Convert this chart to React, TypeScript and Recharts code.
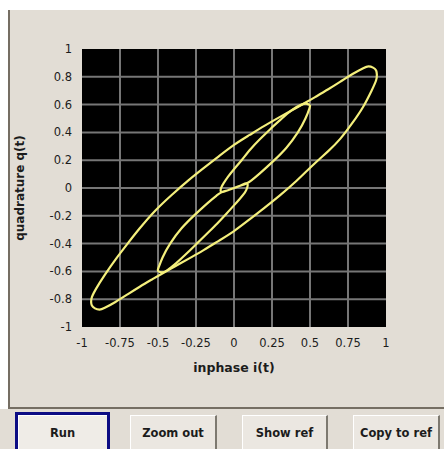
import React from 'react';
import { LineChart, Line, XAxis, YAxis, ReferenceArea, ReferenceLine } from 'recharts';

const xTicks = [-1, -0.75, -0.5, -0.25, 0, 0.25, 0.5, 0.75, 1];
const yTicks = [-1, -0.8, -0.6, -0.4, -0.2, 0, 0.2, 0.4, 0.6, 0.8, 1];

// outer loop (upper edge first, then lower edge)
const outerI = [
  0.94, 0.935, 0.915, 0.885, 0.85, 0.78, 0.7, 0.62, 0.54, 0.48, 0.39, 0.3, 0.2, 0.1, 0,
  -0.1, -0.2, -0.3, -0.41, -0.52, -0.62, -0.7, -0.78, -0.85, -0.905, -0.935, -0.94,
  -0.935, -0.915, -0.885, -0.85, -0.78, -0.7, -0.62, -0.54, -0.48, -0.39, -0.3, -0.2, -0.1, 0,
  0.1, 0.2, 0.3, 0.41, 0.52, 0.62, 0.7, 0.78, 0.85, 0.905, 0.935, 0.94,
];
const outerQ = [
  0.815, 0.845, 0.866, 0.875, 0.862, 0.82, 0.765, 0.71, 0.658, 0.62, 0.565, 0.51, 0.447, 0.38, 0.31,
  0.228, 0.143, 0.055, -0.05, -0.165, -0.29, -0.4, -0.515, -0.625, -0.72, -0.785, -0.82,
  -0.845, -0.866, -0.875, -0.862, -0.82, -0.765, -0.71, -0.658, -0.62, -0.565, -0.51, -0.447, -0.38, -0.31,
  -0.228, -0.143, -0.055, 0.05, 0.165, 0.265, 0.355, 0.47, 0.585, 0.7, 0.775, 0.815,
];

// inner figure with the twist in the middle
const innerI = [
  0.5, 0.475, 0.44, 0.38, 0.31, 0.24, 0.17, 0.11, 0.05, 0, -0.04, -0.068, -0.085,
  -0.082, -0.04, 0, 0.04, 0.085, 0.086,
  0.07, 0.04, 0, -0.05, -0.11, -0.17, -0.24, -0.31, -0.38, -0.44, -0.475,
  -0.5, -0.497, -0.47, -0.42, -0.345, -0.26, -0.17, -0.115,
  -0.082, -0.04, 0, 0.04, 0.085,
  0.115, 0.17, 0.26, 0.345, 0.42, 0.47, 0.497, 0.5,
];
const innerQ = [
  0.597, 0.607, 0.598, 0.56, 0.495, 0.425, 0.35, 0.28, 0.2, 0.135, 0.08, 0.035, 0,
  -0.03, -0.016, 0, 0.016, 0.035, 0,
  -0.035, -0.075, -0.125, -0.185, -0.255, -0.32, -0.395, -0.47, -0.54, -0.592, -0.607,
  -0.597, -0.575, -0.5, -0.4, -0.29, -0.195, -0.105, -0.055,
  -0.03, -0.016, 0, 0.016, 0.035,
  0.055, 0.105, 0.195, 0.29, 0.4, 0.5, 0.575, 0.597,
];

const buttonLabels = ['Run', 'Zoom out', 'Show ref', 'Copy to ref'];

const toPoints = (xs: number[], ys: number[]) => xs.map((i, k) => ({ i, q: ys[k] }));

const outerData = toPoints(outerI, outerQ);
const innerData = toPoints(innerI, innerQ);

const panelBg = '#e2ddd5';
const curveColor = '#f4ef7c';
const gridColor = '#767676';
const tickStyle = { fill: '#1c1c1c', fontSize: 11.5, fontFamily: 'DejaVu Sans' };

const buttonBoxes = [
  { left: 15, width: 95 },
  { left: 130, width: 87 },
  { left: 242, width: 86 },
  { left: 353, width: 87 },
];

const baseButton: React.CSSProperties = {
  position: 'absolute',
  height: 45,
  boxSizing: 'border-box',
  background: '#ebe7e1',
  textAlign: 'center',
  fontWeight: 'bold',
  fontSize: 11.5,
  color: '#1c1c1c',
};

const runButton: React.CSSProperties = {
  ...baseButton,
  top: 412,
  border: '3px solid #0c0c84',
  background: '#efece7',
  boxShadow: 'inset 1px 1px 0 #ffffff',
  lineHeight: '36px',
};

const plainButton: React.CSSProperties = {
  ...baseButton,
  top: 415,
  borderTop: '1px solid #ffffff',
  borderLeft: '1px solid #ffffff',
  borderRight: '2px solid #7d7970',
  lineHeight: '34px',
};

const App = () => {
  return (
    <div
      style={{
        position: 'absolute',
        left: 0,
        top: 0,
        width: 444,
        height: 449,
        overflow: 'hidden',
        background: '#fff',
        fontFamily: 'DejaVu Sans',
      }}
    >
      <div
        style={{
          position: 'absolute',
          left: 8,
          top: 10,
          width: 436,
          height: 399,
          boxSizing: 'border-box',
          background: panelBg,
          borderLeft: '2px solid #756e63',
          borderBottom: '2px solid #756e63',
        }}
      />
      <div style={{ position: 'absolute', left: 0, top: 409, width: 444, height: 40, background: panelBg }} />

      <div style={{ position: 'absolute', left: 0, top: 0 }}>
        <LineChart width={444} height={408} margin={{ top: 49, right: 58, bottom: 51, left: 42 }}>
          <XAxis
            type="number"
            dataKey="i"
            domain={[-1, 1]}
            ticks={xTicks}
            interval={0}
            axisLine={false}
            tickLine={false}
            tickSize={0}
            tickMargin={12}
            height={30}
            tick={tickStyle}
            allowDataOverflow
          />
          <YAxis
            type="number"
            domain={[-1, 1]}
            ticks={yTicks}
            interval={0}
            axisLine={false}
            tickLine={false}
            tickSize={0}
            tickMargin={10}
            width={40}
            tick={tickStyle}
            allowDataOverflow
          />
          <ReferenceArea x1={-1} x2={1} y1={-1} y2={1} fill="#000" fillOpacity={1} stroke="none" />
          {xTicks.slice(1, -1).map((v) => (
            <ReferenceLine key={'x' + v} x={v} stroke={gridColor} strokeWidth={2} />
          ))}
          {yTicks.slice(1, -1).map((v) => (
            <ReferenceLine key={'y' + v} y={v} stroke={gridColor} strokeWidth={2} />
          ))}
          <Line
            data={outerData}
            dataKey="q"
            type="natural"
            stroke={curveColor}
            strokeWidth={2.2}
            dot={false}
            activeDot={false}
            isAnimationActive={false}
          />
          <Line
            data={innerData}
            dataKey="q"
            type="natural"
            stroke={curveColor}
            strokeWidth={2.2}
            dot={false}
            activeDot={false}
            isAnimationActive={false}
          />
        </LineChart>
      </div>

      <div
        style={{
          position: 'absolute',
          left: 234,
          top: 361,
          transform: 'translateX(-50%)',
          whiteSpace: 'nowrap',
          fontWeight: 'bold',
          fontSize: 12.5,
          lineHeight: '14px',
          color: '#1c1c1c',
        }}
      >
        inphase i(t)
      </div>
      <div
        style={{
          position: 'absolute',
          left: 20,
          top: 188,
          transform: 'translate(-50%, -50%) rotate(-90deg)',
          whiteSpace: 'nowrap',
          fontWeight: 'bold',
          fontSize: 12,
          lineHeight: '14px',
          color: '#1c1c1c',
        }}
      >
        quadrature q(t)
      </div>

      {buttonLabels.map((label, k) => (
        <div
          key={label}
          style={{
            ...(k === 0 ? runButton : plainButton),
            left: buttonBoxes[k].left,
            width: buttonBoxes[k].width,
          }}
        >
          {label}
        </div>
      ))}
    </div>
  );
};

export default App;
